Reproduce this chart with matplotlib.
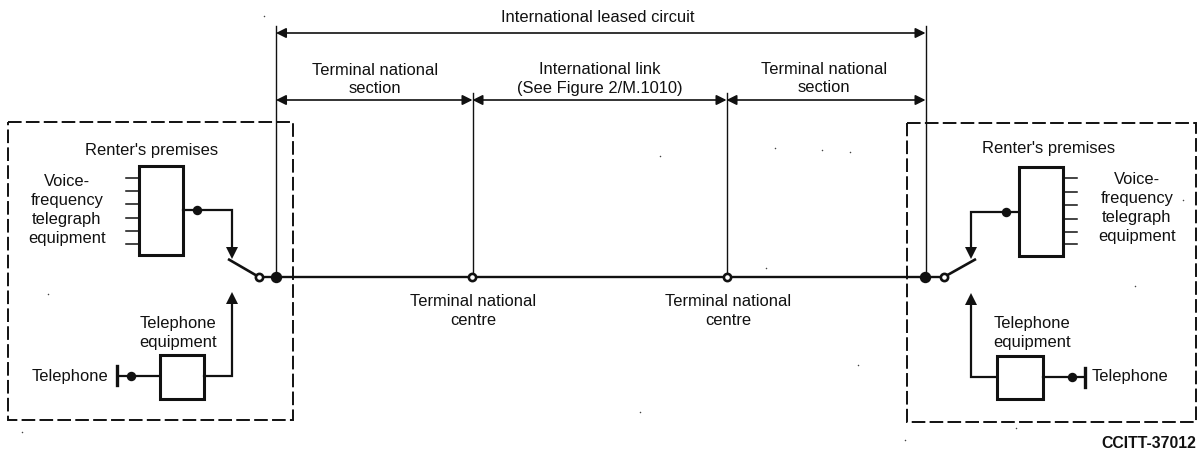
"""CCITT international leased circuit diagram, drawn in pixel coordinates."""

import matplotlib

matplotlib.use("Agg")
import matplotlib.pyplot as plt
from matplotlib.patches import Rectangle

W, H = 1198, 455
INK = "#111111"

# dashed boxes: x0, y0, x1, y1
premises = [(8, 122, 293, 420), (907, 123, 1196, 422)]
# solid boxes
blocks = [(139, 166, 183, 255), (160, 355, 204, 399), (1019, 167, 1063, 256), (997, 356, 1043, 399)]

# short stubs on the telegraph equipment
stub_y_left = [178, 191, 204, 218, 231, 244]
stub_y_right = [178, 192, 205, 219, 232, 244]

# wiring polylines
wires = [
    ([183, 232, 232], [210, 210, 250]),
    ([204, 232, 232], [376, 376, 300]),
    ([118, 160], [376, 376]),
    ([1019, 971, 971], [212, 212, 250]),
    ([997, 971, 971], [377, 377, 300]),
    ([1043, 1085], [377, 377]),
]
switches = [([228, 259], [259, 277]), ([976, 944], [259, 277])]
phone_bars = [(117, 366, 385), (1085, 368, 387)]

filled_nodes = [(197, 210), (131, 376), (1006, 212), (1072, 377)]
main_nodes = [(276, 277), (925, 277)]
hollow_nodes = [(259, 277), (472, 277), (727, 277), (944, 277)]
arrow_heads_down = [(232, 258), (971, 258)]
arrow_heads_up = [(232, 293), (971, 294)]

# verticals: x, top, bottom
verticals = [(276, 26, 277), (925.5, 26, 277), (472.5, 93, 277), (726.5, 93, 277)]
# dimension arrows: x0, x1, y
spans = [(276, 925.5, 33), (276, 472.5, 100), (472.5, 726.5, 100), (726.5, 925.5, 100)]

# x, y, text
labels = [
    (598, 18, "International leased circuit"),
    (375, 79.5, "Terminal national\nsection"),
    (600, 79, "International link\n(See Figure 2/M.1010)"),
    (824, 78.5, "Terminal national\nsection"),
    (152, 150, "Renter's premises"),
    (1049, 149, "Renter's premises"),
    (67, 210, "Voice-\nfrequency\ntelegraph\nequipment"),
    (1137, 208, "Voice-\nfrequency\ntelegraph\nequipment"),
    (178, 333, "Telephone\nequipment"),
    (1032, 333, "Telephone\nequipment"),
    (69.5, 377, "Telephone"),
    (1130, 376, "Telephone"),
    (473, 311, "Terminal national\ncentre"),
    (728, 311, "Terminal national\ncentre"),
]

specks = [(22, 432), (48, 294), (264, 16), (660, 156), (775, 148), (822, 150), (850, 152),
          (1135, 286), (1183, 200), (766, 268), (640, 412), (905, 440), (1016, 428), (858, 365)]

fig = plt.figure(figsize=(W / 100, H / 100), dpi=100)
ax = fig.add_axes([0, 0, 1, 1])
ax.set_xlim(0, W)
ax.set_ylim(H, 0)
ax.axis("off")
plt.rcParams["font.family"] = ["Liberation Sans", "DejaVu Sans"]

for x0, y0, x1, y1 in premises:
    ax.add_patch(Rectangle((x0, y0), x1 - x0, y1 - y0, fill=False, ec=INK, lw=1.4, ls=(0, (7, 2.2))))
for x0, y0, x1, y1 in blocks:
    ax.add_patch(Rectangle((x0, y0), x1 - x0, y1 - y0, fill=False, ec=INK, lw=2.2))

for y in stub_y_left:
    ax.plot([126, 139], [y, y], color=INK, lw=1.1)
for y in stub_y_right:
    ax.plot([1063, 1077], [y, y], color=INK, lw=1.1)

for xs, ys in wires:
    ax.plot(xs, ys, color=INK, lw=1.6, solid_joinstyle="miter")
for xs, ys in switches:
    ax.plot(xs, ys, color=INK, lw=1.9, solid_capstyle="butt")
ax.plot([259, 944], [277, 277], color=INK, lw=1.7, zorder=2)
for x, y0, y1 in phone_bars:
    ax.plot([x, x], [y0, y1], color=INK, lw=2.4)

for x, top, bottom in verticals:
    ax.plot([x, x], [top, bottom], color=INK, lw=1.0)

for x, y in arrow_heads_down:
    ax.plot(x, y - 5, marker="v", ms=8.5, color=INK, mew=0)
for x, y in arrow_heads_up:
    ax.plot(x, y + 5, marker="^", ms=8.5, color=INK, mew=0)

for x0, x1, y in spans:
    ax.annotate("", xy=(x0, y), xytext=(x1, y),
                arrowprops=dict(arrowstyle="<|-|>", color=INK, lw=1.2, shrinkA=0, shrinkB=0, mutation_scale=15))

xs, ys = zip(*filled_nodes)
ax.plot(xs, ys, "o", ms=6.8, color=INK, mew=0, ls="none", zorder=4)
xs, ys = zip(*main_nodes)
ax.plot(xs, ys, "o", ms=8.2, color=INK, mew=0, ls="none", zorder=4)
xs, ys = zip(*hollow_nodes)
ax.plot(xs, ys, "o", ms=5.2, mfc="white", mec=INK, mew=1.9, ls="none", zorder=4)
xs, ys = zip(*specks)
ax.plot(xs, ys, "o", ms=1.1, color="#444444", mew=0, ls="none")

for x, y, s in labels:
    ax.text(x, y, s, ha="center", va="center", fontsize=11.9, color=INK, linespacing=1.33)
ax.text(1196, 444, "CCITT-37012", ha="right", va="center", fontsize=11.4, fontweight="bold", color=INK)

fig.savefig("out.png", dpi=100, facecolor="white")
